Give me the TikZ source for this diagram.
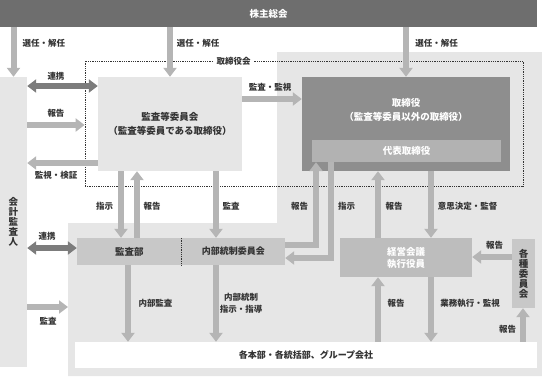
\documentclass[tikz,border=0pt]{standalone}
\usepackage{fontspec}
\setmainfont{Noto Sans CJK JP}
\usetikzlibrary{arrows.meta,positioning}
\definecolor{barfill}{HTML}{6E6E6E}
\definecolor{bgfill}{HTML}{E6E6E6}
\definecolor{torifill}{HTML}{8E8E8E}
\definecolor{daihyofill}{HTML}{B2B2B2}
\definecolor{midfill}{HTML}{C8C8C8}
\definecolor{keieifill}{HTML}{BDBDBD}
\definecolor{arrfill}{HTML}{B5B5B5}
\definecolor{dblfill}{HTML}{7C7C7C}
\definecolor{txt}{HTML}{333333}

\begin{document}
\begin{tikzpicture}[x=1pt, y=-1pt,
	box/.style={inner sep=0pt, align=center, text=txt, font=\fontsize{9.5}{14}\selectfont\bfseries},
	arr/.style={draw=arrfill, line width=6pt, -{Triangle[width=13pt,length=9pt]}},
	dbl/.style={draw=dblfill, line width=5.5pt, {Triangle[width=13pt,length=9pt]}-{Triangle[width=13pt,length=9pt]}},
	lbl/.style={text=txt, inner sep=0pt, align=center, font=\fontsize{8.5}{12}\selectfont\bfseries}]
	
	\useasboundingbox (0,0) rectangle (542,376);
	\fill[bgfill] (277,52) -- (542,52) -- (542,376) -- (68,376) -- (68,223) -- (277,223) -- cycle;
	
	\node[draw=txt, densely dotted, line width=0.8pt, minimum width=438pt, minimum height=125pt, inner sep=0pt] (board) at (304,123.5) {};
	\node[lbl, fill=white, inner sep=3pt] (boardlbl) at (233.5,61) {取締役会};
	
	\node[box, fill=barfill, text=white, minimum width=537pt, minimum height=27pt] (soukai) at (268.5,13.5) {株主総会};
	\node[box, fill=bgfill, minimum width=27pt, minimum height=290pt, font=\fontsize{9.5}{10}\selectfont\bfseries] (kaikei) at (13.5,222) {会\\計\\監\\査\\人};
	\node[box, fill=bgfill, minimum width=144pt, minimum height=94pt] (kiinkai) at (170,124) {監査等委員会\\（監査等委員である取締役）};
	\node[box, fill=torifill, minimum width=208pt, minimum height=94pt] (tori) at (406,124) {};
	\node[box, text=white] (torilbl) at (406,110) {取締役\\（監査等委員以外の取締役）};
	\node[box, fill=daihyofill, text=white, minimum width=189pt, minimum height=22pt] (daihyo) at (406.5,151) {代表取締役};
	\node[box, fill=midfill, minimum width=104.5pt, minimum height=27pt] (kansabu) at (129.25,251.5) {監査部};
	\node[box, fill=midfill, minimum width=103.5pt, minimum height=27pt, font=\fontsize{9}{12}\selectfont\bfseries] (naibu) at (233.25,251.5) {内部統制委員会};
	\node[box, fill=keieifill, text=white, minimum width=132pt, minimum height=39pt, font=\fontsize{9.5}{12}\selectfont\bfseries] (keiei) at (406,257.5) {経営会議\\執行役員};
	\node[box, fill=midfill, minimum width=23pt, minimum height=69pt, font=\fontsize{9.5}{10}\selectfont\bfseries] (kakushu) at (523.5,273.5) {各\\種\\委\\員\\会};
	\node[box, fill=white, minimum width=462pt, minimum height=26pt, font=\fontsize{9}{12}\selectfont\bfseries] (kakubu) at (306,355) {各本部・各統括部、グループ会社};
	\coordinate (grayedge) at (68,307);
	
	\draw[draw=txt, densely dotted, line width=0.8pt] (kansabu.north east) -- (kansabu.south east);
	
	\draw[arr] (soukai.south -| kaikei.north) -- (kaikei.north);
	\draw[arr] (soukai.south -| kiinkai.north) -- (kiinkai.north);
	\draw[arr] (soukai.south -| tori.north) -- (tori.north);
	\draw[dbl] (kaikei.east |- 0,86) -- (kiinkai.west |- 0,86);
	\draw[arr] (kaikei.east |- 0,125) -- (board.west |- 0,125);
	\draw[arr] (kiinkai.west |- 0,163) -- (kaikei.east |- 0,163);
	\draw[arr] (kiinkai.east |- 0,99) -- (tori.west |- 0,99);
	\draw[arr] (kiinkai.south -| 121,0) -- (kansabu.north -| 121,0);
	\draw[arr] (kansabu.north -| 137,0) -- (kiinkai.south -| 137,0);
	\draw[arr] (kiinkai.south -| 216,0) -- (naibu.north -| 216,0);
	\draw[arr] (naibu.east |- 0,245) -| (daihyo.south -| 316,0);
	\draw[arr] (daihyo.south -| 331,0) |- (naibu.east |- 0,258);
	\draw[arr] (keiei.north -| 378,0) -- (tori.south -| 378,0);
	\draw[arr] (tori.south -| 431,0) -- (keiei.north -| 431,0);
	\draw[arr] (kakushu.west |- 0,257) -- (keiei.east |- 0,257);
	\draw[arr] (kakubu.north -| 378,0) -- (keiei.south -| 378,0);
	\draw[arr] (keiei.south -| 431,0) -- (kakubu.north -| 431,0);
	\draw[arr] (kakubu.north -| 523,0) -- (kakushu.south -| 523,0);
	\draw[arr] (kansabu.south -| 128,0) -- (kakubu.north -| 128,0);
	\draw[arr] (naibu.south -| 216,0) -- (kakubu.north -| 216,0);
	\draw[dbl] (kaikei.east |- 0,248) -- (kansabu.west |- 0,248);
	\draw[arr] (kaikei.east |- grayedge) -- (grayedge);
	
	\node[lbl] (sennin1) at (44,43) {選任・解任};
	\node[lbl] (sennin2) at (198,43) {選任・解任};
	\node[lbl] (sennin3) at (436.5,43) {選任・解任};
	\node[lbl] (renkei1) at (56,76) {連携};
	\node[lbl] (houkoku1) at (56,113) {報告};
	\node[lbl] (kenshou) at (56,175) {監視・検証};
	\node[lbl] (kanshi) at (270,87) {監査・監視};
	\node[lbl] (shiji1) at (104.5,206) {指示};
	\node[lbl] (houkoku2) at (152,206) {報告};
	\node[lbl] (kansa1) at (231,206) {監査};
	\node[lbl] (houkoku3) at (299.5,206) {報告};
	\node[lbl] (shiji2) at (346.5,206) {指示};
	\node[lbl] (houkoku4) at (394,206) {報告};
	\node[lbl] (kantoku) at (467.5,206) {意思決定・監督};
	\node[lbl] (houkoku5) at (494.5,245) {報告};
	\node[lbl] (houkoku6) at (396,303) {報告};
	\node[lbl] (gyoumu) at (470,303) {業務執行・監視};
	\node[lbl] (houkoku7) at (507.5,329) {報告};
	\node[lbl] (naibukansa) at (155.5,303) {内部監査};
	\node[lbl] (naibutousei) at (241,303) {内部統制\\指示・指導};
	\node[lbl] (renkei2) at (47,236) {連携};
	\node[lbl] (kansa2) at (48,321) {監査};
	
\end{tikzpicture}
\end{document}
